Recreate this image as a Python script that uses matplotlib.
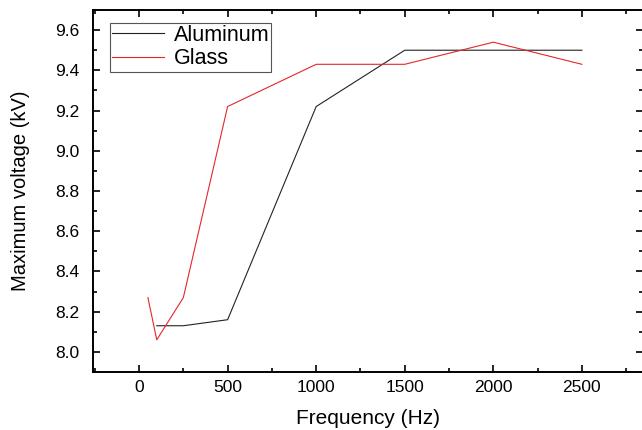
import matplotlib
matplotlib.use("Agg")
import matplotlib.pyplot as plt
from matplotlib.ticker import MultipleLocator, FormatStrFormatter

plt.rcParams['font.family'] = ['Liberation Sans', 'DejaVu Sans']

# data
al_freq = [100, 250, 500, 1000, 1500, 2000, 2500]
al_volt = [8.13, 8.13, 8.16, 9.22, 9.50, 9.50, 9.50]
glass_freq = [50, 100, 250, 500, 1000, 1500, 2000, 2500]
glass_volt = [8.27, 8.06, 8.27, 9.22, 9.43, 9.43, 9.54, 9.43]

fig = plt.figure(figsize=(6.42, 4.30), dpi=100)
ax = fig.add_axes([93 / 642, 58 / 430, 550 / 642, 362 / 430])

ax.plot(al_freq, al_volt, color='#222222', lw=0.8, label='Aluminum')
ax.plot(glass_freq, glass_volt, color='#e3262e', lw=0.8, label='Glass')

ax.set_xlim(-260, 2845)
ax.set_ylim(7.9, 9.7)
ax.xaxis.set_major_locator(MultipleLocator(500))
ax.xaxis.set_minor_locator(MultipleLocator(250))
ax.yaxis.set_major_locator(MultipleLocator(0.2))
ax.yaxis.set_minor_locator(MultipleLocator(0.1))
ax.yaxis.set_major_formatter(FormatStrFormatter('%.1f'))

ax.tick_params(which='both', direction='in', top=True, right=True, labelsize=12.5, width=1.2)
ax.tick_params(which='major', length=5)
ax.tick_params(which='minor', length=3)
ax.tick_params(axis='y', which='major', pad=10)
ax.tick_params(axis='x', which='major', pad=6)
for s in ax.spines.values():
    s.set_linewidth(1.4)

ax.set_xlabel('Frequency (Hz)', fontsize=15, labelpad=10)
ax.set_ylabel('Maximum voltage (kV)', fontsize=14.5, labelpad=18)

leg = ax.legend(loc='upper left', bbox_to_anchor=(0.031, 0.965), fontsize=15.5,
                fancybox=False, framealpha=1, edgecolor='#555555',
                handlelength=2.4, borderpad=0.1, labelspacing=0.12,
                handletextpad=0.45, borderaxespad=0)
leg.get_frame().set_linewidth(0.8)

fig.savefig('out.png', dpi=100)
